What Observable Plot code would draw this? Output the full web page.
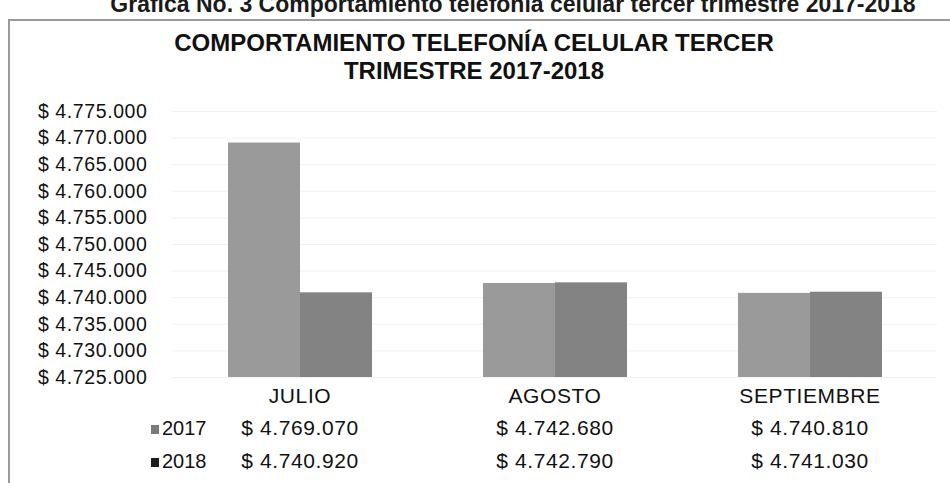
<!DOCTYPE html>
<html>
<head>
<meta charset="utf-8">
<script src="https://cdn.jsdelivr.net/npm/d3@7"></script>
<script src="https://cdn.jsdelivr.net/npm/@observablehq/plot@0.6"></script>
<style>
  html, body { margin: 0; padding: 0; background: #fff; }
  #page { position: relative; width: 950px; height: 483px; overflow: hidden; background: #fff;
          font-family: "Liberation Sans", Arial, sans-serif; color: #111; }
  #heading { position: absolute; left: 0; width: 1026px; top: -7px; text-align: center;
             font-weight: bold; font-size: 23px; line-height: 23px; white-space: nowrap; color: #1a1a1a; }
  #box { position: absolute; left: 8px; top: 19px; width: 960px; height: 480px;
         border-left: 2px solid #9a9a9a; border-top: 2px solid #9a9a9a; }
  #title { position: absolute; left: 0; width: 948px; top: 29px; text-align: center;
           font-weight: bold; font-size: 24px; line-height: 28px; color: #111; }
  #chart { position: absolute; left: 0; top: 90px; }
  #chart svg text { letter-spacing: 0.6px; }
  .leg { position: absolute; left: 151px; font-size: 20px; line-height: 20px; white-space: nowrap; }
  .leg .sq { display: inline-block; width: 8px; height: 9px; margin-right: 3px; vertical-align: 1px; }
</style>
</head>
<body>
<div id="page">
  <div id="heading"></div>
  <div id="box"></div>
  <div id="title"></div>
  <div id="chart"></div>
</div>
<script>
const headingText = "Gráfica No. 3 Comportamiento telefonía celular tercer trimestre 2017-2018";
const titleLines = ["COMPORTAMIENTO TELEFONÍA CELULAR TERCER", "TRIMESTRE 2017-2018"];
const months = ["JULIO", "AGOSTO", "SEPTIEMBRE"];
const series = ["2017", "2018"];
const values2017 = [4769070, 4742680, 4740810];
const values2018 = [4740920, 4742790, 4741030];
const yTicks = [4725000, 4730000, 4735000, 4740000, 4745000, 4750000, 4755000, 4760000, 4765000, 4770000, 4775000];
const barColors = ["#9a9a9a", "#838383"];
const legendColors = ["#7a7a7a", "#1c1c1c"];

const money = v => "$ " + d3.format(",")(v).replace(/,/g, ".");

document.getElementById("heading").textContent = headingText;
document.getElementById("title").innerHTML = titleLines.join("<br>");

const seriesValues = [values2017, values2018];
const rows = [];
months.forEach((m, i) => series.forEach((s, j) => rows.push({month: m, year: s, value: seriesValues[j][i]})));

const tableMarks = series.map((s, j) =>
  Plot.text(months, {fx: d => d, text: (d, i) => money(seriesValues[j][i]), frameAnchor: "bottom",
                     dy: 57 + j * 33, fontSize: 21, fill: "#111"})
);

const chart = Plot.plot({
  width: 950,
  height: 393,
  marginTop: 21,
  marginBottom: 106,
  marginLeft: 172,
  marginRight: 13,
  style: {fontFamily: "'Liberation Sans', Arial, sans-serif", fontSize: "19.5px", color: "#111", background: "transparent", overflow: "visible"},
  fx: {domain: months, padding: 0, axis: null},
  x: {domain: series, paddingInner: 0, paddingOuter: 0.76, axis: null},
  y: {domain: [4725000, 4775000], ticks: yTicks, tickFormat: money, tickSize: 0, tickPadding: 25, label: null},
  color: {domain: series, range: barColors},
  marks: [
    Plot.gridY(yTicks, {stroke: "#e6e6e6", strokeOpacity: 0.5}),
    Plot.barY(rows, {fx: "month", x: "year", y1: 4725000, y2: "value", fill: "year"}),
    Plot.text(months, {fx: d => d, text: d => d, frameAnchor: "bottom", dy: 25, fontSize: 21, fill: "#111"}),
    ...tableMarks
  ]
});
document.getElementById("chart").appendChild(chart);

const page = document.getElementById("page");
series.forEach((s, j) => {
  const div = document.createElement("div");
  div.className = "leg";
  div.style.top = (418 + j * 33) + "px";
  div.innerHTML = `<span class="sq" style="background:${legendColors[j]}"></span>${s}`;
  page.appendChild(div);
});
</script>
</body>
</html>
